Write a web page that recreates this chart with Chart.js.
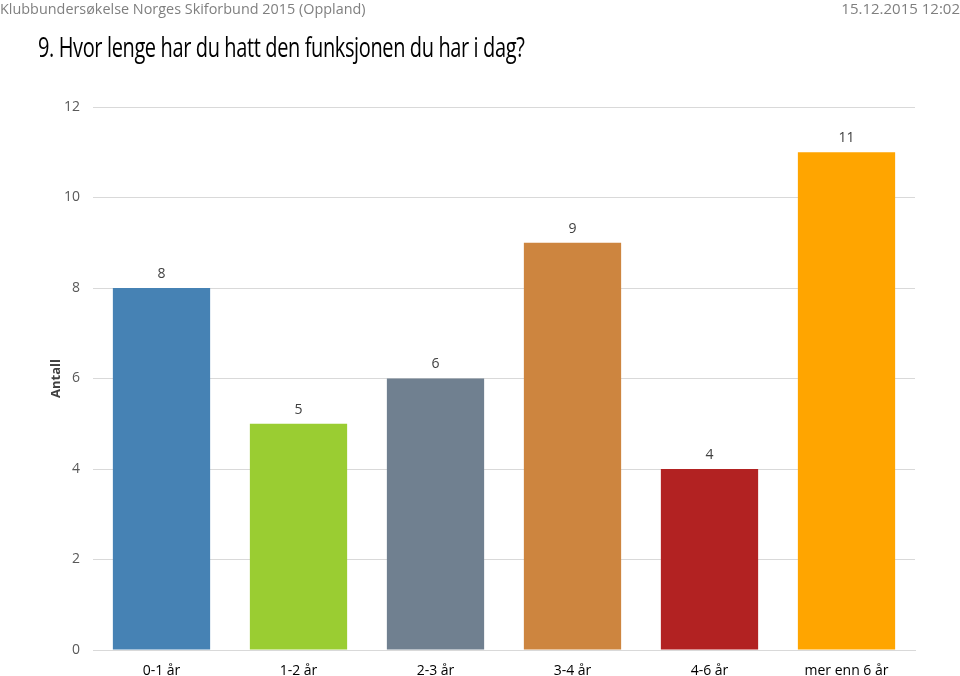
<!DOCTYPE html>
<html>
<head>
<meta charset="utf-8">
<script src="https://cdn.jsdelivr.net/npm/chart.js@4"></script>
<style>
  html, body { margin: 0; padding: 0; background: #fff; }
  body { width: 960px; height: 676px; position: relative; overflow: hidden; font-family: "Open Sans", sans-serif; }
  #wrap { position: absolute; left: 0; top: 0; width: 960px; height: 676px; }
  .hdr { position: absolute; top: -2px; font-size: 15px; color: #7f7f7f; white-space: nowrap; }
  #hl { left: 0; transform-origin: left top; transform: scaleX(0.96); }
  #hr { right: 0; transform-origin: right top; transform: scaleX(1); }
  #title { position: absolute; left: 38px; top: 28px; font-size: 27px; color: #000; white-space: nowrap; transform-origin: left top; transform: scaleX(0.74); letter-spacing: -0.5px; }
</style>
</head>
<body>
<div id="wrap"><canvas id="myChart" width="960" height="676"></canvas></div>
<div class="hdr" id="hl">Klubbundersøkelse Norges Skiforbund 2015 (Oppland)</div>
<div class="hdr" id="hr">15.12.2015 12:02</div>
<div id="title">9. Hvor lenge har du hatt den funksjonen du har i dag?</div>
<script>
const kategorier = ['0-1 år', '1-2 år', '2-3 år', '3-4 år', '4-6 år', 'mer enn 6 år'];
const antall = [8, 5, 6, 9, 4, 11];
const farger = ['#4682B4', '#9ACD32', '#708090', '#CD853F', '#B22222', '#FFA500'];
const yTicks = [0, 2, 4, 6, 8, 10, 12];

// tall over hver stolpe
const verdiEtiketter = {
  id: 'verdiEtiketter',
  afterDatasetsDraw(chart) {
    const c = chart.ctx;
    c.save();
    c.font = '14px "Open Sans", sans-serif';
    c.fillStyle = '#404040';
    c.textAlign = 'center';
    c.textBaseline = 'middle';
    chart.getDatasetMeta(0).data.forEach((bar, i) => {
      c.fillText(antall[i], bar.x, bar.y - 14);
    });
    c.restore();
  }
};

const ctx = document.getElementById('myChart');
new Chart(ctx, {
  type: 'bar',
  data: {
    labels: kategorier,
    datasets: [{
      data: antall,
      backgroundColor: farger,
      barPercentage: 0.71,
      categoryPercentage: 1
    }]
  },
  options: {
    responsive: false,
    animation: false,
    layout: { padding: { top: 107, right: 45, left: 0, bottom: 0 } },
    scales: {
      y: {
        min: 0,
        max: 12,
        afterFit: (s) => { s.width = 93; },
        afterBuildTicks: (s) => { s.ticks = yTicks.map(v => ({ value: v })); },
        ticks: { padding: 13, color: '#595959', font: { family: 'Open Sans', size: 14 } },
        grid: { color: '#d9d9d9', drawTicks: false },
        border: { display: false },
        title: { display: true, text: 'Antall', color: '#404040', font: { family: 'Open Sans', size: 13, weight: 'bold' }, padding: { top: 48, bottom: 0 } }
      },
      x: {
        afterFit: (s) => { s.height = 26; },
        ticks: { padding: 5, color: '#000', font: { family: 'Open Sans', size: 14 } },
        grid: { display: false },
        border: { color: '#d9d9d9' }
      }
    },
    plugins: {
      legend: { display: false },
      tooltip: { enabled: false }
    }
  },
  plugins: [verdiEtiketter]
});
</script>
</body>
</html>
